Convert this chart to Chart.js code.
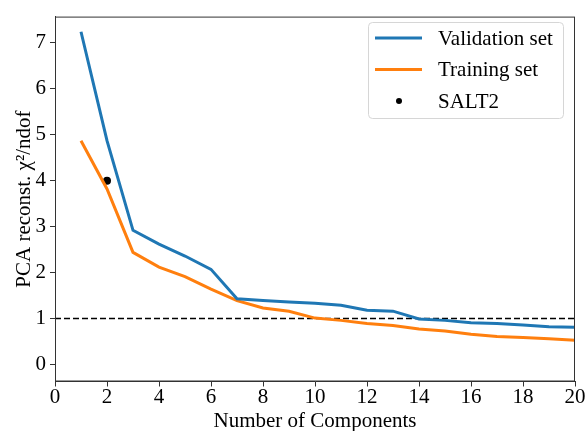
<!DOCTYPE html>
<html lang="en">
<head>
  <meta charset="UTF-8">
  <title>PCA reconstruction chi2</title>
  <script src="https://cdn.jsdelivr.net/npm/chart.js"></script>
  <style>
    html, body { margin: 0; padding: 0; background: #fff; }
    #wrap { position: relative; width: 588px; height: 431px; }
  </style>
</head>
<body>
  <div id="wrap"><canvas id="pcaChart" width="588" height="431"></canvas></div>

  <script>
    const components = [1, 2, 3, 4, 5, 6, 7, 8, 9, 10, 11, 12, 13, 14, 15, 16, 17, 18, 19, 20];
    const validationSet = [7.24, 4.87, 2.92, 2.62, 2.36, 2.07, 1.43, 1.39, 1.36, 1.33, 1.29, 1.18, 1.16, 0.99, 0.96, 0.91, 0.89, 0.86, 0.82, 0.81];
    const trainingSet = [4.87, 3.82, 2.44, 2.12, 1.91, 1.64, 1.39, 1.23, 1.16, 1.01, 0.96, 0.89, 0.85, 0.77, 0.73, 0.66, 0.61, 0.59, 0.56, 0.53];
    const salt2X = [2];
    const salt2Y = [4.0];
    const refLevel = 1;
    const xRange = [0, 20];
    const yRange = [-0.37, 7.57];
    const yTicks = [0, 1, 2, 3, 4, 5, 6, 7];

    const FONT = "'Liberation Serif', 'DejaVu Serif', serif";
    const BLUE = '#1f77b4';
    const ORANGE = '#ff7f0e';
    const AXIS = '#333';

    const toPoints = (xs, ys) => xs.map((x, i) => ({ x: x, y: ys[i] }));

    // box around the plot + legend drawn in the top right corner
    const framePlugin = {
      id: 'frame',
      afterDraw(chart) {
        const { ctx, chartArea: a } = chart;
        ctx.save();
        ctx.strokeStyle = AXIS;
        ctx.lineWidth = 1;
        ctx.strokeRect(a.left + 0.5, a.top + 0.5, a.right - a.left - 1, a.bottom - a.top - 1);

        // legend
        const bx = 368, by = 22, bw = 195, bh = 96;
        ctx.fillStyle = 'rgba(255,255,255,0.8)';
        ctx.strokeStyle = '#d6d6d6';
        ctx.beginPath();
        ctx.roundRect(bx + 0.5, by + 0.5, bw, bh, 4);
        ctx.fill();
        ctx.stroke();

        const items = chart.data.datasets.filter(d => d.label);
        ctx.font = '21px ' + FONT;
        ctx.textBaseline = 'middle';
        items.forEach((d, i) => {
          const y = 38 + i * 31.5;
          if (d.showLine === false) {
            ctx.fillStyle = d.backgroundColor;
            ctx.beginPath();
            ctx.arc(399, y, 3, 0, Math.PI * 2);
            ctx.fill();
          } else {
            ctx.strokeStyle = d.borderColor;
            ctx.lineWidth = 3;
            ctx.beginPath();
            ctx.moveTo(375, y);
            ctx.lineTo(422, y);
            ctx.stroke();
          }
          ctx.fillStyle = '#000';
          ctx.fillText(d.label, 438, y + 1);
        });
        ctx.restore();
      }
    };

    const ctx = document.getElementById('pcaChart').getContext('2d');
    new Chart(ctx, {
      type: 'line',
      data: {
        datasets: [
          { label: 'Validation set', data: toPoints(components, validationSet), borderColor: BLUE, borderWidth: 3, pointRadius: 0, fill: false },
          { label: 'Training set', data: toPoints(components, trainingSet), borderColor: ORANGE, borderWidth: 3, pointRadius: 0, fill: false },
          { label: 'SALT2', data: toPoints(salt2X, salt2Y), showLine: false, backgroundColor: '#000', borderColor: '#000', pointRadius: 4, pointBorderWidth: 0 },
          { label: '', data: toPoints(xRange, [refLevel, refLevel]), borderColor: '#000', borderWidth: 1.6, borderDash: [6, 3], pointRadius: 0, fill: false }
        ]
      },
      options: {
        responsive: false,
        animation: false,
        layout: { padding: { top: 11, right: 13, left: 0, bottom: 0 } },
        plugins: { legend: { display: false }, tooltip: { enabled: false } },
        scales: {
          x: {
            type: 'linear',
            min: xRange[0],
            max: xRange[1],
            afterFit: s => { s.height = 49.5; },
            ticks: { stepSize: 2, color: '#000', font: { family: FONT, size: 21 }, padding: -2, maxRotation: 0 },
            grid: { drawOnChartArea: false, drawTicks: true, tickLength: 5, color: AXIS },
            border: { display: true, color: AXIS },
            title: { display: true, text: 'Number of Components', color: '#000', font: { family: FONT, size: 21 }, padding: { top: 0, bottom: -3 } }
          },
          y: {
            min: yRange[0],
            max: yRange[1],
            afterFit: s => { s.width = 55; },
            afterBuildTicks: s => { s.ticks = yTicks.map(v => ({ value: v })); },
            ticks: { color: '#000', font: { family: FONT, size: 21 }, padding: 4 },
            grid: { drawOnChartArea: false, drawTicks: true, tickLength: 5, color: AXIS },
            border: { display: true, color: AXIS },
            title: { display: true, text: 'PCA reconst. \u03C7\u00B2/ndof', color: '#000', font: { family: FONT, size: 21 }, padding: { top: 12, bottom: 0 } }
          }
        }
      },
      plugins: [framePlugin]
    });
  </script>
</body>
</html>
